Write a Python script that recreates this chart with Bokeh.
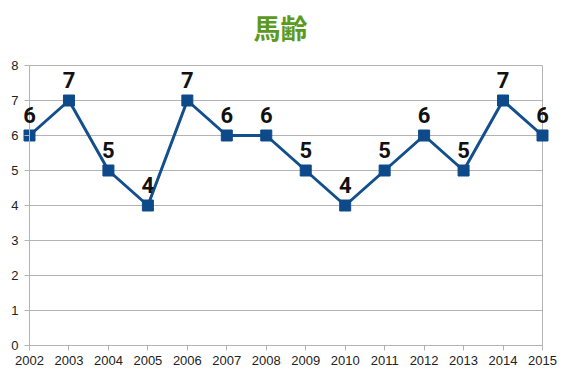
from bokeh.plotting import figure
from bokeh.models import ColumnDataSource, Range1d, FixedTicker, LabelSet, Title
from bokeh.core.properties import value
from bokeh.embed import file_html
from bokeh.resources import INLINE

years = [2002, 2003, 2004, 2005, 2006, 2007, 2008, 2009, 2010, 2011, 2012, 2013, 2014, 2015]
ages = [6, 7, 5, 4, 7, 6, 6, 5, 4, 5, 6, 5, 7, 6]
title_text = "馬齢"
y_ticks = [0, 1, 2, 3, 4, 5, 6, 7, 8]

src = ColumnDataSource(dict(x=years, y=ages, lab=[str(a) for a in ages]))

# frame spans whole plot width so labels at the edges are not clipped
px_per_year = 513 / 13.0
px_per_unit = 35.0
pad_l = 29 / px_per_year
pad_r = 18 / px_per_year
pad_t = 14 / px_per_unit
pad_b = 30 / px_per_unit

p = figure(width=567, height=375, output_backend="svg", toolbar_location=None,
           x_range=Range1d(years[0] - pad_l, years[-1] + pad_r),
           y_range=Range1d(y_ticks[0] - pad_b, y_ticks[-1] + pad_t),
           min_border_left=0, min_border_right=7, min_border_top=51, min_border_bottom=0)
p.title = None
p.add_layout(Title(text=title_text, align="center", text_font="Noto Sans CJK JP",
                   text_font_style="bold", text_font_size="27px", text_color="#5b9a1e"), "above")
p.background_fill_color = "white"
p.border_fill_color = "white"
p.outline_line_color = None
p.xgrid.grid_line_color = None
p.ygrid.grid_line_color = None

grid_col = "#b3b3b3"
# horizontal grid lines bounded to the plot area, and right border
p.segment(x0=years[0], x1=years[-1], y0=y_ticks[1:], y1=y_ticks[1:], line_color=grid_col, line_width=1)
p.segment(x0=years[-1], x1=years[-1], y0=y_ticks[0], y1=y_ticks[-1], line_color=grid_col, line_width=1)

p.xaxis.ticker = FixedTicker(ticks=years)
p.yaxis.ticker = FixedTicker(ticks=y_ticks)
p.yaxis.fixed_location = years[0]
p.xaxis.fixed_location = y_ticks[0]
p.xaxis.bounds = (years[0], years[-1])
p.yaxis.bounds = (y_ticks[0], y_ticks[-1])
for ax in (p.xaxis, p.yaxis):
    ax.axis_line_color = grid_col
    ax.major_tick_line_color = grid_col
    ax.major_tick_in = 0
    ax.major_tick_out = 5
    ax.minor_tick_line_color = None
    ax.major_label_text_font = "Liberation Sans"
    ax.major_label_text_font_size = "13px"
    ax.major_label_text_color = "#222222"
p.xaxis.major_label_standoff = 5
p.yaxis.major_label_standoff = 6

p.line("x", "y", source=src, line_color="#124f8c", line_width=3)
p.scatter("x", "y", source=src, marker="square", size=11, fill_color="#0e4a89", line_color="#0e4a89")
labels = LabelSet(x="x", y="y", text="lab", source=src, text_align="center", text_baseline="alphabetic",
                  y_offset=13, text_font=value("Roboto"), text_font_style="bold",
                  text_font_size="22px", text_color="#111111")
p.add_layout(labels)

open("out.html", "w").write(file_html(p, INLINE))
